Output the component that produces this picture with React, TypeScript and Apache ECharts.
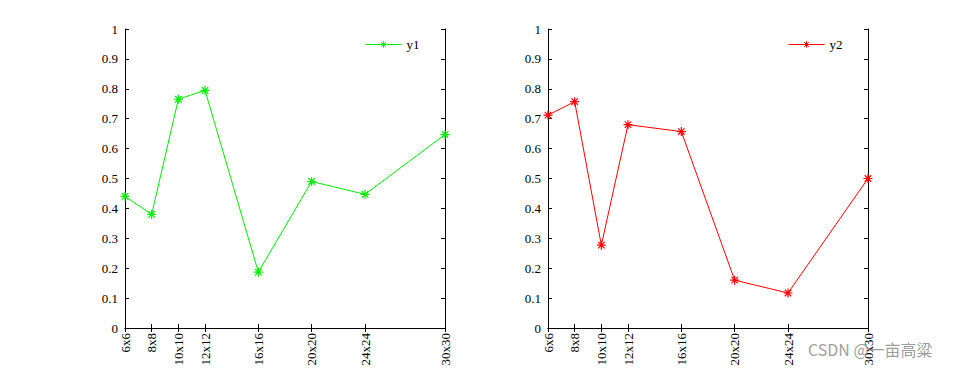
import React, { useEffect, useRef } from "react";
import * as echarts from "echarts";

const xs = [6, 8, 10, 12, 16, 20, 24, 30];
const xLabels = ["6x6", "8x8", "10x10", "12x12", "16x16", "20x20", "24x24", "30x30"];
const y1 = [0.44, 0.38, 0.765, 0.795, 0.187, 0.49, 0.447, 0.647];
const y2 = [0.712, 0.757, 0.277, 0.68, 0.657, 0.16, 0.117, 0.5];
const seriesNames = ["y1", "y2"];
const seriesColors = ["#00ee00", "#ff0000"];

const FONT = "'Liberation Serif', 'Times New Roman', serif";
const STAR = "path://M0,-5L0,5M-5,0L5,0M-3.6,-3.6L3.6,3.6M-3.6,3.6L3.6,-3.6";

export default function App() {
  const ref = useRef<HTMLDivElement>(null);
  useEffect(() => {
    if (!ref.current) return;
    const chart = echarts.init(ref.current, null, { renderer: "svg" });
    const lefts = [125, 548];
    const axisLine = { show: true, lineStyle: { color: "#000", width: 1 } };
    const xAxis: any[] = [];
    const yAxis: any[] = [];
    lefts.forEach((_, g) => {
      ["bottom", "top"].forEach((pos) => {
        xAxis.push({
          type: "value",
          gridIndex: g,
          position: pos,
          min: 6,
          max: 30,
          interval: 2,
          axisLine,
          splitLine: { show: false },
          axisTick: { show: true, inside: true, length: 4, customValues: xs, lineStyle: { color: "#000" } },
          axisLabel: {
            show: pos === "bottom",
            customValues: xs,
            rotate: 90,
            margin: 5,
            color: "#000",
            fontFamily: FONT,
            fontSize: 13,
            formatter: (v: number) => {
              const i = xs.indexOf(v);
              return i >= 0 ? xLabels[i] : "";
            },
          },
        });
      });
      ["left", "right"].forEach((pos) => {
        yAxis.push({
          type: "value",
          gridIndex: g,
          position: pos,
          min: 0,
          max: 1,
          interval: 0.1,
          axisLine,
          splitLine: { show: false },
          axisTick: { show: true, inside: true, length: 4, lineStyle: { color: "#000" } },
          axisLabel: {
            show: pos === "left",
            margin: 7,
            color: "#000",
            fontFamily: FONT,
            fontSize: 13,
            formatter: (v: number) => String(Math.round(v * 10) / 10),
          },
        });
      });
    });
    const datas = [y1, y2];
    const option: any = {
      animation: false,
      backgroundColor: "#fff",
      grid: lefts.map((l) => ({ left: l, top: 29, width: 320, height: 299 })),
      xAxis,
      yAxis,
      legend: [
        { data: [seriesNames[0]], left: 365, top: 38 },
        { data: [seriesNames[1]], left: 788, top: 38 },
      ].map((l) => ({
        ...l,
        padding: 0,
        itemWidth: 36,
        itemHeight: 8,
        lineStyle: { width: 1 },
        itemStyle: { borderWidth: 1 },
        textStyle: { fontFamily: FONT, fontSize: 13, color: "#000" },
      })),
      series: datas.map((d, g) => ({
        type: "line",
        name: seriesNames[g],
        xAxisIndex: g * 2,
        yAxisIndex: g * 2,
        data: xs.map((x, i) => [x, d[i]]),
        symbol: STAR,
        symbolSize: 9,
        showAllSymbol: true,
        lineStyle: { color: seriesColors[g], width: 1 },
        itemStyle: { color: seriesColors[g], borderColor: seriesColors[g], borderWidth: 1.2 },
      })),
      graphic: [
        {
          type: "text",
          left: 808,
          top: 341,
          z: 100,
          style: {
            text: "CSDN @一亩高粱",
            fontFamily: "'Noto Sans CJK SC', 'Noto Sans', sans-serif",
            fontSize: 16,
            fill: "rgba(140,140,140,0.85)",
          },
        },
      ],
    };
    chart.setOption(option);
    return () => chart.dispose();
  }, []);
  return (
    <div
      ref={ref}
      style={{ position: "fixed", left: 0, top: 0, width: 960, height: 370 }}
    />
  );
}
